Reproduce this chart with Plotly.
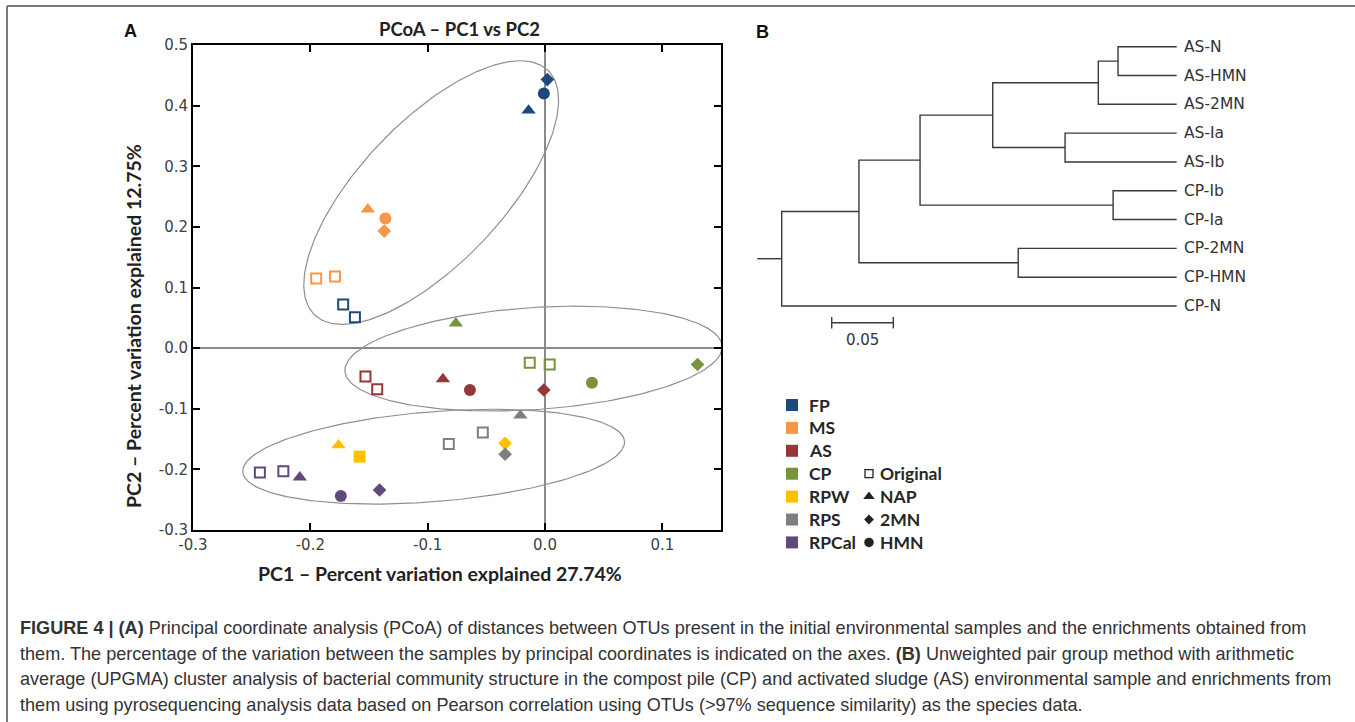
import numpy as np
import plotly.graph_objects as go

W, H = 1355, 722

# ---------------- data: PCoA ----------------
groups = ["FP", "MS", "AS", "CP", "RPW", "RPS", "RPCal"]
group_colors = ["#1F497D", "#F79646", "#953735", "#77933C", "#FFC000", "#7F7F7F", "#604A7B"]

treatments = ["Original", "NAP", "2MN", "HMN"]
treatment_symbols = {"Original": "square-open", "NAP": "triangle-up", "2MN": "diamond",
                     "HMN": "circle", "Original*": "square"}
treatment_sizes = {"Original": 10, "NAP": 12.5, "2MN": 10.5, "HMN": 12, "Original*": 12}

fp_trt = ["Original", "Original", "NAP", "2MN", "HMN"]
fp_pc1 = [-0.172, -0.162, -0.014, 0.002, -0.001]
fp_pc2 = [0.072, 0.051, 0.392, 0.443, 0.420]

ms_trt = ["Original", "Original", "NAP", "HMN", "2MN"]
ms_pc1 = [-0.195, -0.179, -0.151, -0.136, -0.137]
ms_pc2 = [0.115, 0.118, 0.229, 0.214, 0.193]

as_trt = ["Original", "Original", "NAP", "HMN", "2MN"]
as_pc1 = [-0.153, -0.143, -0.087, -0.064, -0.001]
as_pc2 = [-0.047, -0.068, -0.051, -0.069, -0.069]

cp_trt = ["Original", "Original", "NAP", "HMN", "2MN"]
cp_pc1 = [-0.013, 0.004, -0.076, 0.040, 0.130]
cp_pc2 = [-0.024, -0.027, 0.041, -0.057, -0.027]

rpw_trt = ["NAP", "Original*", "2MN"]
rpw_pc1 = [-0.176, -0.158, -0.034]
rpw_pc2 = [-0.160, -0.179, -0.157]

rps_trt = ["Original", "Original", "NAP", "2MN"]
rps_pc1 = [-0.082, -0.053, -0.021, -0.034]
rps_pc2 = [-0.158, -0.139, -0.111, -0.175]

rpcal_trt = ["Original", "Original", "NAP", "HMN", "2MN"]
rpcal_pc1 = [-0.243, -0.223, -0.209, -0.174, -0.141]
rpcal_pc2 = [-0.205, -0.203, -0.213, -0.244, -0.234]

group_data = [(fp_trt, fp_pc1, fp_pc2), (ms_trt, ms_pc1, ms_pc2), (as_trt, as_pc1, as_pc2),
              (cp_trt, cp_pc1, cp_pc2), (rpw_trt, rpw_pc1, rpw_pc2),
              (rps_trt, rps_pc1, rps_pc2), (rpcal_trt, rpcal_pc1, rpcal_pc2)]

x_ticks = [-0.3, -0.2, -0.1, 0.0, 0.1]
x_tick_labels = ["-0.3", "-0.2", "-0.1", "0.0", "0.1"]
y_ticks = [-0.3, -0.2, -0.1, 0.0, 0.1, 0.2, 0.3, 0.4, 0.5]
y_tick_labels = ["-0.3", "-0.2", "-0.1", "0.0", "0.1", "0.2", "0.3", "0.4", "0.5"]

# cluster ellipses: centre (data), semi-axes (px), rotation (deg)
ell_cx = [-0.097, -0.0098, -0.0949]
ell_cy = [0.2566, -0.0173, -0.179]
ell_a = [169, 189, 191.5]
ell_b = [71, 51, 45]
ell_ang = [46.4, 3.8, 4.6]

# ---------------- data: UPGMA dendrogram ----------------
leaves = ["AS-N", "AS-HMN", "AS-2MN", "AS-Ia", "AS-Ib", "CP-Ib", "CP-Ia", "CP-2MN", "CP-HMN", "CP-N"]
leaf_depth = 0.3206
# merges: (child A, child B, node depth from root)
merges = [("AS-N", "AS-HMN", 0.273),
          ("n0", "AS-2MN", 0.257),
          ("AS-Ia", "AS-Ib", 0.230),
          ("n1", "n2", 0.1713),
          ("CP-Ib", "CP-Ia", 0.269),
          ("n3", "n4", 0.1123),
          ("CP-2MN", "CP-HMN", 0.192),
          ("n5", "n6", 0.0627),
          ("n7", "CP-N", 0.0)]
root_stem = -0.0198
scale_len = 0.05
scale_label = "0.05"

# ---------------- layout geometry ----------------
x1_dom = [193 / W, 721 / W]
y1_dom = [1 - 530 / H, 1 - 45 / H]
x1_rng = [-0.3, 0.15]
y1_rng = [-0.3, 0.5]
px_x = (x1_dom[1] - x1_dom[0]) * W / (x1_rng[1] - x1_rng[0])
px_y = (y1_dom[1] - y1_dom[0]) * H / (y1_rng[1] - y1_rng[0])

fig = go.Figure()

# ellipses
for cx, cy, a, b, ang in zip(ell_cx, ell_cy, ell_a, ell_b, ell_ang):
    t = np.linspace(0, 2 * np.pi, 240)
    r = np.deg2rad(ang)
    dx = a * np.cos(t) * np.cos(r) - b * np.sin(t) * np.sin(r)
    dy = a * np.cos(t) * np.sin(r) + b * np.sin(t) * np.cos(r)
    fig.add_trace(go.Scatter(x=cx + dx / px_x, y=cy + dy / px_y, mode="lines",
                             line=dict(color="#8f8f8f", width=1.2), hoverinfo="skip",
                             showlegend=False, xaxis="x", yaxis="y"))

# points
for g, col, (trt, xs, ys) in zip(groups, group_colors, group_data):
    for tr, xv, yv in zip(trt, xs, ys):
        sym = treatment_symbols[tr]
        open_ = sym.endswith("open")
        fig.add_trace(go.Scatter(
            x=[xv], y=[yv], mode="markers", showlegend=False, name=f"{g} {tr}",
            marker=dict(symbol=sym, size=treatment_sizes[tr], color=col,
                        line=dict(color=col, width=2 if open_ else 0)),
            xaxis="x", yaxis="y"))

# dendrogram
ypos = {name: i for i, name in enumerate(leaves)}
xpos = {name: leaf_depth for name in leaves}
lx, ly = [], []
for k, (a, b, d) in enumerate(merges):
    ya, yb = ypos[a], ypos[b]
    lx += [xpos[a], d, d, xpos[b], None]
    ly += [ya, ya, yb, yb, None]
    ypos[f"n{k}"] = (ya + yb) / 2
    xpos[f"n{k}"] = d
root = f"n{len(merges) - 1}"
lx += [root_stem, xpos[root], None]
ly += [ypos[root], ypos[root], None]
fig.add_trace(go.Scatter(x=lx, y=ly, mode="lines", line=dict(color="#3a3a3a", width=1.4),
                         hoverinfo="skip", showlegend=False, xaxis="x2", yaxis="y2"))

# scale bar
sb_x0 = 0.0406
sb_y = 9.58
fig.add_trace(go.Scatter(x=[sb_x0, sb_x0, None, sb_x0, sb_x0 + scale_len, None,
                            sb_x0 + scale_len, sb_x0 + scale_len],
                         y=[sb_y - 0.2, sb_y + 0.2, None, sb_y, sb_y, None, sb_y - 0.2, sb_y + 0.2],
                         mode="lines", line=dict(color="#3a3a3a", width=1.4), hoverinfo="skip",
                         showlegend=False, xaxis="x2", yaxis="y2"))

annotations = []
for name in leaves:
    annotations.append(dict(x=leaf_depth + 0.0045, y=ypos[name], xref="x2", yref="y2",
                            text=name, showarrow=False, xanchor="left", yanchor="middle",
                            font=dict(family="DejaVu Sans", size=15.5, color="#333333")))
annotations.append(dict(x=862, y=340, xref="x3", yref="y3", text=scale_label,
                        showarrow=False, xanchor="center", yanchor="middle",
                        font=dict(family="DejaVu Sans", size=15, color="#333333")))

# legend (pixel overlay axis)
leg_y0, leg_dy = 405, 22.9
for i, (g, col) in enumerate(zip(groups, group_colors)):
    yv = leg_y0 + i * leg_dy
    fig.add_trace(go.Scatter(x=[792], y=[yv], mode="markers", showlegend=False,
                             marker=dict(symbol="square", size=12, color=col),
                             xaxis="x3", yaxis="y3", hoverinfo="skip"))
    annotations.append(dict(x=807, y=yv, xref="x3", yref="y3", text=f"<b>{g}</b>",
                            showarrow=False, xanchor="left", yanchor="middle",
                            font=dict(family="Lato", size=17.5, color="#262626")))
leg_sizes = {"Original": 8, "NAP": 10, "2MN": 7.5, "HMN": 9.5}
for j, tr in enumerate(treatments):
    yv = leg_y0 + (3 + j) * leg_dy
    sym = treatment_symbols[tr]
    fig.add_trace(go.Scatter(x=[869], y=[yv], mode="markers", showlegend=False,
                             marker=dict(symbol=sym, size=leg_sizes[tr], color="#222222",
                                         line=dict(color="#222222", width=1.3 if sym.endswith("open") else 0)),
                             xaxis="x3", yaxis="y3", hoverinfo="skip"))
    annotations.append(dict(x=878, y=yv, xref="x3", yref="y3", text=f"<b>{tr}</b>",
                            showarrow=False, xanchor="left", yanchor="middle",
                            font=dict(family="Lato", size=17.5, color="#262626")))

# titles & panel labels
annotations += [
    dict(x=459 / W, y=1 - 29 / H, xref="paper", yref="paper", text="<b>PCoA – PC1 vs PC2</b>",
         showarrow=False, xanchor="center", yanchor="middle",
         font=dict(family="Lato", size=18.5, color="#222222")),
    dict(x=440 / W, y=1 - 573 / H, xref="paper", yref="paper",
         text="<b>PC1 – Percent variation explained 27.74%</b>",
         showarrow=False, xanchor="center", yanchor="middle",
         font=dict(family="Lato", size=19.5, color="#222222")),
    dict(x=133 / W, y=1 - 326 / H, xref="paper", yref="paper",
         text="<b>PC2 – Percent variation explained 12.75%</b>", textangle=-90,
         showarrow=False, xanchor="center", yanchor="middle",
         font=dict(family="Lato", size=19.5, color="#222222")),
    dict(x=130 / W, y=1 - 31 / H, xref="paper", yref="paper", text="<b>A</b>",
         showarrow=False, xanchor="center", yanchor="middle",
         font=dict(family="Liberation Sans", size=18, color="#111111")),
    dict(x=762 / W, y=1 - 32 / H, xref="paper", yref="paper", text="<b>B</b>",
         showarrow=False, xanchor="center", yanchor="middle",
         font=dict(family="Liberation Sans", size=18, color="#111111")),
]

caption_lines = [
    "<b>FIGURE 4 | (A)</b> Principal coordinate analysis (PCoA) of distances between OTUs present in the initial environmental samples and the enrichments obtained from",
    "them. The percentage of the variation between the samples by principal coordinates is indicated on the axes. <b>(B)</b> Unweighted pair group method with arithmetic",
    "average (UPGMA) cluster analysis of bacterial community structure in the compost pile (CP) and activated sludge (AS) environmental sample and enrichments from",
    "them using pyrosequencing analysis data based on Pearson correlation using OTUs (&gt;97% sequence similarity) as the species data.",
]
for k, line in enumerate(caption_lines):
    annotations.append(dict(x=18 / W, y=1 - (628 + 25.7 * k) / H, xref="paper", yref="paper",
                            text=line, showarrow=False, xanchor="left", yanchor="middle",
                            font=dict(family="Liberation Sans", size=18.1, color="#333333")))

shapes = [
    dict(type="line", xref="paper", yref="paper", x0=7 / W, x1=1.0, y0=1 - 6 / H, y1=1 - 6 / H,
         line=dict(color="#7a7a7a", width=2)),
    dict(type="line", xref="paper", yref="paper", x0=7 / W, x1=7 / W, y0=1 - 6 / H, y1=0.0,
         line=dict(color="#7a7a7a", width=2)),
]

tickfont = dict(family="DejaVu Sans", size=15, color="#404040")
fig.update_layout(
    template="none",
    width=W, height=H, margin=dict(l=0, r=0, t=0, b=0, pad=0), autosize=False,
    paper_bgcolor="white", plot_bgcolor="rgba(0,0,0,0)", showlegend=False,
    annotations=annotations, shapes=shapes,
    xaxis=dict(domain=x1_dom, range=x1_rng, tickvals=x_ticks, ticktext=x_tick_labels,
               showgrid=False, zeroline=True, zerolinecolor="#8a8a8a", zerolinewidth=2,
               showline=True, linecolor="black", linewidth=2, mirror="ticks",
               ticks="inside", ticklen=7, tickwidth=2, tickcolor="black",
               tickfont=tickfont, fixedrange=True, automargin=False),
    yaxis=dict(domain=y1_dom, range=y1_rng, tickvals=y_ticks, ticktext=y_tick_labels,
               showgrid=False, zeroline=True, zerolinecolor="#8a8a8a", zerolinewidth=2,
               showline=True, linecolor="black", linewidth=2, mirror="ticks",
               ticks="inside", ticklen=7, tickwidth=2, tickcolor="black",
               tickfont=tickfont, fixedrange=True, automargin=False),
    xaxis2=dict(domain=[740 / W, 1.0], range=[(740 - 781.7) / 1232, (1355 - 781.7) / 1232],
                visible=False, fixedrange=True, automargin=False),
    yaxis2=dict(domain=[1 - 330 / H, 1 - 20 / H],
                range=[(330 - 46.7) / 28.81, (20 - 46.7) / 28.81], visible=False,
                fixedrange=True, automargin=False),
    xaxis3=dict(domain=[0, 1], range=[0, W], visible=False, fixedrange=True, automargin=False),
    yaxis3=dict(domain=[0, 1], range=[H, 0], visible=False, fixedrange=True, automargin=False),
)

fig.write_html("out.html", config={"displayModeBar": False},
               post_script="document.body.style.margin='0';document.body.style.overflow='hidden';")
